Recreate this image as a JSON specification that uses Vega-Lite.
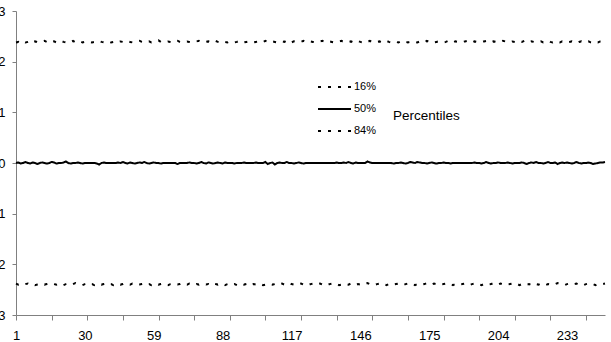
{
  "$schema": "https://vega.github.io/schema/vega-lite/v6.json",
  "autosize": {"type": "none"},
  "padding": {"left": 16, "top": 11, "right": 6, "bottom": 27},
  "width": 589,
  "height": 304,
  "background": "white",
  "config": {
    "view": {"stroke": null},
    "font": "Liberation Sans",
    "axis": {"labelFont": "Liberation Sans", "labelColor": "black", "domainColor": "#808080", "tickColor": "#808080", "grid": false, "title": null}
  },
  "data": {"values": [
{"t":1,"16%":-2.38,"50%":0.00,"84%":2.38},{"t":2,"16%":-2.40,"50%":0.01,"84%":2.39},{"t":3,"16%":-2.39,"50%":-0.01,"84%":2.37},{"t":4,"16%":-2.41,"50%":0.00,"84%":2.40},{"t":5,"16%":-2.39,"50%":0.02,"84%":2.38},{"t":6,"16%":-2.38,"50%":0.00,"84%":2.39},{"t":7,"16%":-2.40,"50%":-0.01,"84%":2.41},{"t":8,"16%":-2.39,"50%":0.01,"84%":2.38},{"t":9,"16%":-2.41,"50%":0.00,"84%":2.40},{"t":10,"16%":-2.40,"50%":-0.02,"84%":2.39},
{"t":11,"16%":-2.39,"50%":0.00,"84%":2.38},{"t":12,"16%":-2.38,"50%":0.01,"84%":2.40},{"t":13,"16%":-2.40,"50%":0.00,"84%":2.41},{"t":14,"16%":-2.39,"50%":-0.01,"84%":2.39},{"t":15,"16%":-2.38,"50%":0.00,"84%":2.37},{"t":16,"16%":-2.37,"50%":0.02,"84%":2.39},{"t":17,"16%":-2.39,"50%":0.01,"84%":2.40},{"t":18,"16%":-2.40,"50%":-0.01,"84%":2.38},{"t":19,"16%":-2.38,"50%":0.00,"84%":2.39},{"t":20,"16%":-2.39,"50%":0.00,"84%":2.41},
{"t":21,"16%":-2.41,"50%":0.01,"84%":2.39},{"t":22,"16%":-2.39,"50%":0.03,"84%":2.38},{"t":23,"16%":-2.38,"50%":0.00,"84%":2.40},{"t":24,"16%":-2.40,"50%":-0.01,"84%":2.39},{"t":25,"16%":-2.39,"50%":0.00,"84%":2.41},{"t":26,"16%":-2.37,"50%":0.00,"84%":2.38},{"t":27,"16%":-2.39,"50%":0.01,"84%":2.39},{"t":28,"16%":-2.40,"50%":0.00,"84%":2.40},{"t":29,"16%":-2.41,"50%":-0.01,"84%":2.38},{"t":30,"16%":-2.39,"50%":0.00,"84%":2.39},
{"t":31,"16%":-2.38,"50%":0.00,"84%":2.40},{"t":32,"16%":-2.40,"50%":0.00,"84%":2.39},{"t":33,"16%":-2.39,"50%":0.00,"84%":2.38},{"t":34,"16%":-2.41,"50%":0.00,"84%":2.39},{"t":35,"16%":-2.39,"50%":-0.01,"84%":2.40},{"t":36,"16%":-2.38,"50%":-0.03,"84%":2.41},{"t":37,"16%":-2.40,"50%":0.00,"84%":2.39},{"t":38,"16%":-2.39,"50%":0.01,"84%":2.38},{"t":39,"16%":-2.38,"50%":0.00,"84%":2.39},{"t":40,"16%":-2.40,"50%":0.00,"84%":2.40},
{"t":41,"16%":-2.39,"50%":0.00,"84%":2.38},{"t":42,"16%":-2.41,"50%":0.00,"84%":2.39},{"t":43,"16%":-2.39,"50%":0.00,"84%":2.37},{"t":44,"16%":-2.38,"50%":0.01,"84%":2.39},{"t":45,"16%":-2.40,"50%":0.00,"84%":2.40},{"t":46,"16%":-2.39,"50%":0.02,"84%":2.39},{"t":47,"16%":-2.37,"50%":0.00,"84%":2.38},{"t":48,"16%":-2.39,"50%":-0.01,"84%":2.40},{"t":49,"16%":-2.40,"50%":0.01,"84%":2.39},{"t":50,"16%":-2.38,"50%":0.00,"84%":2.38},
{"t":51,"16%":-2.39,"50%":-0.01,"84%":2.39},{"t":52,"16%":-2.41,"50%":0.00,"84%":2.40},{"t":53,"16%":-2.40,"50%":0.01,"84%":2.41},{"t":54,"16%":-2.39,"50%":0.00,"84%":2.39},{"t":55,"16%":-2.38,"50%":0.02,"84%":2.38},{"t":56,"16%":-2.40,"50%":0.00,"84%":2.39},{"t":57,"16%":-2.39,"50%":-0.01,"84%":2.40},{"t":58,"16%":-2.41,"50%":0.00,"84%":2.38},{"t":59,"16%":-2.39,"50%":0.01,"84%":2.39},{"t":60,"16%":-2.38,"50%":0.00,"84%":2.40},
{"t":61,"16%":-2.40,"50%":0.00,"84%":2.42},{"t":62,"16%":-2.39,"50%":-0.01,"84%":2.39},{"t":63,"16%":-2.38,"50%":0.00,"84%":2.38},{"t":64,"16%":-2.40,"50%":0.00,"84%":2.39},{"t":65,"16%":-2.41,"50%":0.00,"84%":2.40},{"t":66,"16%":-2.39,"50%":0.00,"84%":2.39},{"t":67,"16%":-2.38,"50%":0.00,"84%":2.38},{"t":68,"16%":-2.39,"50%":0.00,"84%":2.40},{"t":69,"16%":-2.40,"50%":-0.02,"84%":2.41},{"t":70,"16%":-2.39,"50%":0.00,"84%":2.39},
{"t":71,"16%":-2.37,"50%":0.00,"84%":2.38},{"t":72,"16%":-2.39,"50%":0.00,"84%":2.39},{"t":73,"16%":-2.40,"50%":0.00,"84%":2.40},{"t":74,"16%":-2.38,"50%":0.01,"84%":2.39},{"t":75,"16%":-2.39,"50%":0.00,"84%":2.38},{"t":76,"16%":-2.41,"50%":0.00,"84%":2.39},{"t":77,"16%":-2.39,"50%":-0.01,"84%":2.40},{"t":78,"16%":-2.40,"50%":0.00,"84%":2.41},{"t":79,"16%":-2.38,"50%":0.02,"84%":2.39},{"t":80,"16%":-2.39,"50%":0.00,"84%":2.38},
{"t":81,"16%":-2.40,"50%":-0.01,"84%":2.39},{"t":82,"16%":-2.39,"50%":0.01,"84%":2.40},{"t":83,"16%":-2.41,"50%":0.00,"84%":2.38},{"t":84,"16%":-2.38,"50%":-0.01,"84%":2.39},{"t":85,"16%":-2.39,"50%":0.00,"84%":2.41},{"t":86,"16%":-2.40,"50%":0.01,"84%":2.39},{"t":87,"16%":-2.38,"50%":0.00,"84%":2.38},{"t":88,"16%":-2.39,"50%":-0.01,"84%":2.40},{"t":89,"16%":-2.41,"50%":0.01,"84%":2.39},{"t":90,"16%":-2.39,"50%":0.00,"84%":2.38},
{"t":91,"16%":-2.38,"50%":0.00,"84%":2.40},{"t":92,"16%":-2.40,"50%":0.00,"84%":2.39},{"t":93,"16%":-2.39,"50%":-0.01,"84%":2.38},{"t":94,"16%":-2.41,"50%":0.00,"84%":2.39},{"t":95,"16%":-2.39,"50%":0.00,"84%":2.41},{"t":96,"16%":-2.38,"50%":0.00,"84%":2.40},{"t":97,"16%":-2.40,"50%":0.01,"84%":2.38},{"t":98,"16%":-2.39,"50%":0.00,"84%":2.39},{"t":99,"16%":-2.38,"50%":0.00,"84%":2.40},{"t":100,"16%":-2.41,"50%":0.00,"84%":2.39},
{"t":101,"16%":-2.39,"50%":0.00,"84%":2.38},{"t":102,"16%":-2.40,"50%":0.01,"84%":2.39},{"t":103,"16%":-2.38,"50%":0.00,"84%":2.40},{"t":104,"16%":-2.39,"50%":0.00,"84%":2.38},{"t":105,"16%":-2.41,"50%":0.00,"84%":2.39},{"t":106,"16%":-2.40,"50%":0.02,"84%":2.41},{"t":107,"16%":-2.39,"50%":-0.02,"84%":2.39},{"t":108,"16%":-2.38,"50%":0.00,"84%":2.38},{"t":109,"16%":-2.40,"50%":0.01,"84%":2.40},{"t":110,"16%":-2.39,"50%":-0.03,"84%":2.39},
{"t":111,"16%":-2.41,"50%":0.00,"84%":2.38},{"t":112,"16%":-2.39,"50%":0.01,"84%":2.39},{"t":113,"16%":-2.38,"50%":0.00,"84%":2.40},{"t":114,"16%":-2.40,"50%":0.00,"84%":2.39},{"t":115,"16%":-2.39,"50%":0.02,"84%":2.42},{"t":116,"16%":-2.37,"50%":0.00,"84%":2.39},{"t":117,"16%":-2.39,"50%":0.00,"84%":2.38},{"t":118,"16%":-2.40,"50%":-0.01,"84%":2.40},{"t":119,"16%":-2.41,"50%":0.00,"84%":2.39},{"t":120,"16%":-2.39,"50%":0.01,"84%":2.38},
{"t":121,"16%":-2.38,"50%":0.00,"84%":2.39},{"t":122,"16%":-2.40,"50%":-0.01,"84%":2.41},{"t":123,"16%":-2.39,"50%":0.00,"84%":2.39},{"t":124,"16%":-2.41,"50%":0.00,"84%":2.38},{"t":125,"16%":-2.39,"50%":0.00,"84%":2.40},{"t":126,"16%":-2.38,"50%":0.00,"84%":2.39},{"t":127,"16%":-2.40,"50%":0.00,"84%":2.38},{"t":128,"16%":-2.39,"50%":0.00,"84%":2.39},{"t":129,"16%":-2.38,"50%":0.00,"84%":2.40},{"t":130,"16%":-2.40,"50%":0.00,"84%":2.41},
{"t":131,"16%":-2.39,"50%":0.00,"84%":2.39},{"t":132,"16%":-2.41,"50%":0.00,"84%":2.38},{"t":133,"16%":-2.39,"50%":0.00,"84%":2.40},{"t":134,"16%":-2.38,"50%":0.00,"84%":2.39},{"t":135,"16%":-2.40,"50%":0.00,"84%":2.38},{"t":136,"16%":-2.39,"50%":0.01,"84%":2.39},{"t":137,"16%":-2.41,"50%":0.00,"84%":2.40},{"t":138,"16%":-2.40,"50%":0.00,"84%":2.41},{"t":139,"16%":-2.38,"50%":0.01,"84%":2.39},{"t":140,"16%":-2.39,"50%":0.00,"84%":2.38},
{"t":141,"16%":-2.40,"50%":0.02,"84%":2.39},{"t":142,"16%":-2.38,"50%":0.00,"84%":2.40},{"t":143,"16%":-2.39,"50%":-0.01,"84%":2.38},{"t":144,"16%":-2.41,"50%":0.01,"84%":2.39},{"t":145,"16%":-2.39,"50%":0.00,"84%":2.41},{"t":146,"16%":-2.40,"50%":0.00,"84%":2.39},{"t":147,"16%":-2.38,"50%":0.00,"84%":2.38},{"t":148,"16%":-2.39,"50%":0.00,"84%":2.40},{"t":149,"16%":-2.37,"50%":0.03,"84%":2.39},{"t":150,"16%":-2.39,"50%":0.01,"84%":2.41},
{"t":151,"16%":-2.40,"50%":0.00,"84%":2.39},{"t":152,"16%":-2.41,"50%":0.00,"84%":2.38},{"t":153,"16%":-2.39,"50%":0.00,"84%":2.39},{"t":154,"16%":-2.38,"50%":0.00,"84%":2.40},{"t":155,"16%":-2.40,"50%":0.00,"84%":2.38},{"t":156,"16%":-2.39,"50%":0.00,"84%":2.39},{"t":157,"16%":-2.41,"50%":0.00,"84%":2.41},{"t":158,"16%":-2.39,"50%":0.00,"84%":2.39},{"t":159,"16%":-2.38,"50%":0.00,"84%":2.38},{"t":160,"16%":-2.40,"50%":-0.01,"84%":2.40},
{"t":161,"16%":-2.39,"50%":0.00,"84%":2.39},{"t":162,"16%":-2.38,"50%":0.00,"84%":2.38},{"t":163,"16%":-2.40,"50%":0.01,"84%":2.40},{"t":164,"16%":-2.41,"50%":0.00,"84%":2.41},{"t":165,"16%":-2.39,"50%":-0.01,"84%":2.39},{"t":166,"16%":-2.38,"50%":0.00,"84%":2.38},{"t":167,"16%":-2.40,"50%":0.02,"84%":2.39},{"t":168,"16%":-2.39,"50%":0.01,"84%":2.40},{"t":169,"16%":-2.41,"50%":0.00,"84%":2.39},{"t":170,"16%":-2.39,"50%":0.02,"84%":2.38},
{"t":171,"16%":-2.38,"50%":0.01,"84%":2.40},{"t":172,"16%":-2.40,"50%":0.00,"84%":2.39},{"t":173,"16%":-2.39,"50%":0.00,"84%":2.38},{"t":174,"16%":-2.37,"50%":-0.01,"84%":2.41},{"t":175,"16%":-2.39,"50%":0.00,"84%":2.39},{"t":176,"16%":-2.40,"50%":0.01,"84%":2.40},{"t":177,"16%":-2.38,"50%":0.00,"84%":2.38},{"t":178,"16%":-2.39,"50%":-0.01,"84%":2.39},{"t":179,"16%":-2.41,"50%":0.00,"84%":2.40},{"t":180,"16%":-2.40,"50%":0.00,"84%":2.39},
{"t":181,"16%":-2.39,"50%":0.01,"84%":2.38},{"t":182,"16%":-2.38,"50%":0.00,"84%":2.39},{"t":183,"16%":-2.40,"50%":0.00,"84%":2.41},{"t":184,"16%":-2.39,"50%":-0.01,"84%":2.39},{"t":185,"16%":-2.41,"50%":0.00,"84%":2.38},{"t":186,"16%":-2.39,"50%":0.00,"84%":2.40},{"t":187,"16%":-2.38,"50%":0.00,"84%":2.39},{"t":188,"16%":-2.40,"50%":0.00,"84%":2.38},{"t":189,"16%":-2.39,"50%":0.00,"84%":2.39},{"t":190,"16%":-2.38,"50%":0.00,"84%":2.40},
{"t":191,"16%":-2.40,"50%":0.00,"84%":2.41},{"t":192,"16%":-2.41,"50%":0.00,"84%":2.39},{"t":193,"16%":-2.39,"50%":0.00,"84%":2.38},{"t":194,"16%":-2.38,"50%":0.01,"84%":2.40},{"t":195,"16%":-2.40,"50%":0.00,"84%":2.39},{"t":196,"16%":-2.39,"50%":0.00,"84%":2.38},{"t":197,"16%":-2.41,"50%":-0.01,"84%":2.39},{"t":198,"16%":-2.39,"50%":0.00,"84%":2.40},{"t":199,"16%":-2.38,"50%":0.02,"84%":2.41},{"t":200,"16%":-2.40,"50%":0.00,"84%":2.39},
{"t":201,"16%":-2.39,"50%":-0.01,"84%":2.38},{"t":202,"16%":-2.37,"50%":0.00,"84%":2.40},{"t":203,"16%":-2.39,"50%":0.00,"84%":2.39},{"t":204,"16%":-2.40,"50%":0.01,"84%":2.38},{"t":205,"16%":-2.38,"50%":0.00,"84%":2.39},{"t":206,"16%":-2.39,"50%":0.00,"84%":2.41},{"t":207,"16%":-2.41,"50%":0.00,"84%":2.40},{"t":208,"16%":-2.40,"50%":0.01,"84%":2.38},{"t":209,"16%":-2.39,"50%":0.00,"84%":2.39},{"t":210,"16%":-2.38,"50%":-0.01,"84%":2.40},
{"t":211,"16%":-2.40,"50%":0.00,"84%":2.39},{"t":212,"16%":-2.39,"50%":0.00,"84%":2.38},{"t":213,"16%":-2.41,"50%":0.00,"84%":2.40},{"t":214,"16%":-2.39,"50%":0.01,"84%":2.39},{"t":215,"16%":-2.38,"50%":0.00,"84%":2.41},{"t":216,"16%":-2.40,"50%":-0.02,"84%":2.39},{"t":217,"16%":-2.39,"50%":0.00,"84%":2.38},{"t":218,"16%":-2.41,"50%":0.01,"84%":2.40},{"t":219,"16%":-2.38,"50%":0.00,"84%":2.39},{"t":220,"16%":-2.39,"50%":0.02,"84%":2.38},
{"t":221,"16%":-2.40,"50%":0.00,"84%":2.39},{"t":222,"16%":-2.38,"50%":0.00,"84%":2.40},{"t":223,"16%":-2.39,"50%":-0.01,"84%":2.38},{"t":224,"16%":-2.41,"50%":0.00,"84%":2.39},{"t":225,"16%":-2.39,"50%":0.02,"84%":2.41},{"t":226,"16%":-2.40,"50%":0.00,"84%":2.39},{"t":227,"16%":-2.38,"50%":0.00,"84%":2.38},{"t":228,"16%":-2.39,"50%":0.01,"84%":2.40},{"t":229,"16%":-2.37,"50%":-0.02,"84%":2.39},{"t":230,"16%":-2.39,"50%":0.00,"84%":2.38},
{"t":231,"16%":-2.40,"50%":0.01,"84%":2.40},{"t":232,"16%":-2.41,"50%":0.00,"84%":2.39},{"t":233,"16%":-2.39,"50%":0.01,"84%":2.38},{"t":234,"16%":-2.38,"50%":0.00,"84%":2.39},{"t":235,"16%":-2.40,"50%":-0.01,"84%":2.40},{"t":236,"16%":-2.39,"50%":0.00,"84%":2.38},{"t":237,"16%":-2.38,"50%":0.02,"84%":2.37},{"t":238,"16%":-2.40,"50%":0.00,"84%":2.39},{"t":239,"16%":-2.39,"50%":-0.01,"84%":2.40},{"t":240,"16%":-2.41,"50%":0.00,"84%":2.38},
{"t":241,"16%":-2.39,"50%":0.00,"84%":2.39},{"t":242,"16%":-2.38,"50%":0.01,"84%":2.40},{"t":243,"16%":-2.40,"50%":0.00,"84%":2.38},{"t":244,"16%":-2.39,"50%":-0.02,"84%":2.37},{"t":245,"16%":-2.41,"50%":-0.01,"84%":2.39},{"t":246,"16%":-2.39,"50%":0.00,"84%":2.38},{"t":247,"16%":-2.40,"50%":0.01,"84%":2.40},{"t":248,"16%":-2.39,"50%":0.01,"84%":2.41},{"t":249,"16%":-2.38,"50%":0.02,"84%":2.42}
  ]},
  "transform": [{"fold": ["16%", "50%", "84%"], "as": ["Percentile", "v"]}],
  "mark": {"type": "line", "color": "black", "strokeCap": "butt"},
  "encoding": {
    "x": {
      "field": "t", "type": "quantitative",
      "scale": {"domain": [1, 249], "nice": false, "zero": false},
      "axis": {
        "values": [1,16,30,31,46,59,61,76,88,91,106,117,121,136,146,151,166,175,181,196,204,211,226,233,241],
        "labelExpr": "(datum.value - 1) % 29 == 0 ? datum.label : ''",
        "tickOpacity": {"condition": {"test": "(datum.value - 1) % 29 == 0 && datum.value != 1", "value": 0}, "value": 1},
        "labelOverlap": false, "labelFontSize": 13, "tickSize": 5, "labelPadding": 9, "labelFlush": false
      }
    },
    "y": {
      "field": "v", "type": "quantitative",
      "scale": {"domain": [-3, 3], "nice": false},
      "axis": {"values": [-3,-2,-1,0,1,2,3], "labelFontSize": 13, "tickSize": 4, "labelPadding": 7, "labelFlush": false}
    },
    "strokeDash": {
      "field": "Percentile", "type": "nominal",
      "scale": {"domain": ["16%", "50%", "84%"], "range": [[3, 7], [1, 0], [3, 7]]},
      "legend": {
        "orient": "none", "legendX": 301, "legendY": 65,
        "title": "Percentiles", "titleOrient": "right", "titleAnchor": "middle", "titleBaseline": "top",
        "titleFontSize": 13.5, "titleFontWeight": "normal", "titleFont": "Liberation Sans", "titleColor": "black", "titlePadding": 17,
        "labelFont": "Liberation Sans", "labelFontSize": 11, "labelColor": "black", "labelOffset": 2,
        "symbolType": "stroke", "symbolSize": 1089, "symbolStrokeColor": "black",
        "clipHeight": 22, "rowPadding": 0, "padding": 0
      }
    },
    "strokeWidth": {
      "field": "Percentile", "type": "nominal",
      "scale": {"domain": ["16%", "50%", "84%"], "range": [2, 2, 2]},
      "legend": null
    }
  }
}
